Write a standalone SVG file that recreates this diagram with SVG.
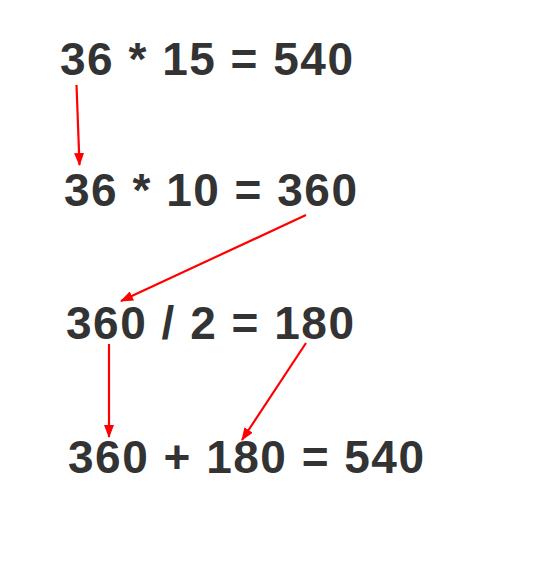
<svg xmlns="http://www.w3.org/2000/svg" width="557" height="587" viewBox="0 0 557 587">
<style>
.t{font-family:"Liberation Sans",Arial,sans-serif;font-weight:bold;font-size:46px;fill:#333333}
.c{stroke:#ff0000;stroke-width:2.2;fill:none;marker-end:url(#ah)}
</style>
<defs>
<marker id="ah" markerWidth="13" markerHeight="10" refX="12" refY="5" orient="auto" markerUnits="userSpaceOnUse">
<path d="M0,0 L13,5 L0,10 Z" fill="#ff0000"/>
</marker>
</defs>
<rect width="557" height="587" fill="#ffffff"/>
<g id="eq1"><text class="t" x="60" y="75" textLength="293" lengthAdjust="spacing">36 * 15 = 540</text></g>
<g id="eq2"><text class="t" x="64" y="206" textLength="293" lengthAdjust="spacing">36 * 10 = 360</text></g>
<g id="eq3"><text class="t" x="66" y="339" textLength="288" lengthAdjust="spacing">360 / 2 = 180</text></g>
<g id="eq4"><text class="t" x="68" y="473" textLength="356" lengthAdjust="spacing">360 + 180 = 540</text></g>
<g id="connectors">
<line class="c" x1="76.5" y1="85" x2="79.5" y2="165"/>
<line class="c" x1="306" y1="215" x2="121" y2="301"/>
<line class="c" x1="109" y1="344" x2="109" y2="437"/>
<line class="c" x1="306" y1="343" x2="242" y2="440"/>
</g>
</svg>
